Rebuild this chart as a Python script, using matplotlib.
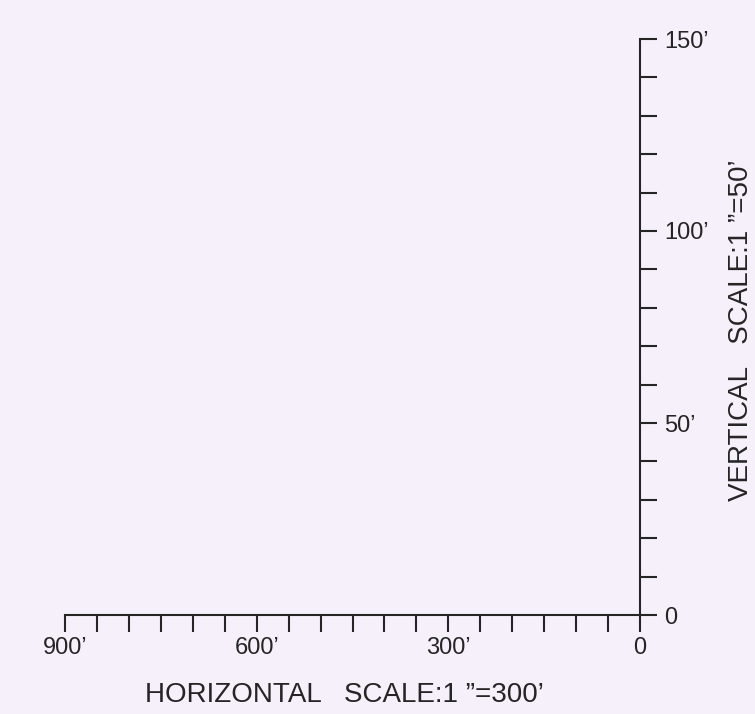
import numpy as np
import matplotlib
matplotlib.use("Agg")
import matplotlib.pyplot as plt

plt.rcParams['font.family'] = ['Liberation Sans', 'DejaVu Sans']

# scale bar values (feet)
h_ticks = [900, 600, 300, 0]
h_labels = ["900\u2019", "600\u2019", "300\u2019", "0"]
h_step = 50
v_ticks = [0, 50, 100, 150]
v_labels = ["0", "50\u2019", "100\u2019", "150\u2019"]
v_step = 10

h_title = "HORIZONTAL   SCALE:1 \u201d=300\u2019"
v_title = "VERTICAL   SCALE:1 \u201d=50\u2019"

bg = "#f6f0fa"
ink = "#252525"

W, H = 755, 714
fig = plt.figure(figsize=(W / 100, H / 100), dpi=100, facecolor=bg)
# axes box placed in pixels: x 65..640, y 39..615 (from top)
ax = fig.add_axes([65 / W, (H - 615) / H, (640 - 65) / W, (615 - 39) / H])
ax.set_facecolor(bg)
ax.set_xlim(max(h_ticks), 0)
ax.set_ylim(0, max(v_ticks))

for s in ["left", "top"]:
    ax.spines[s].set_visible(False)
for s in ["bottom", "right"]:
    ax.spines[s].set_color(ink)
    ax.spines[s].set_linewidth(1.5)

ax.set_xticks(h_ticks)
ax.set_xticklabels(h_labels)
ax.set_xticks(np.arange(0, max(h_ticks) + 1, h_step), minor=True)
ax.set_yticks(v_ticks)
ax.set_yticklabels(v_labels)
ax.set_yticks(np.arange(0, max(v_ticks) + 1, v_step), minor=True)

ax.yaxis.tick_right()
ax.xaxis.tick_bottom()
ax.tick_params(which="both", direction="out", length=12.2, width=1.5, color=ink)
ax.tick_params(axis="x", which="major", labelsize=17, labelcolor=ink, pad=4)
ax.tick_params(axis="y", which="major", labelsize=17, labelcolor=ink, pad=5)

fig.text(145 / W, 1 - 702 / H, h_title, ha="left", va="baseline", fontsize=20, color=ink)
fig.text(748 / W, 1 - 330 / H, v_title, ha="center", va="baseline", rotation=90,
         rotation_mode="anchor", fontsize=20, color=ink)

fig.savefig("out.png", dpi=100, facecolor=bg)
